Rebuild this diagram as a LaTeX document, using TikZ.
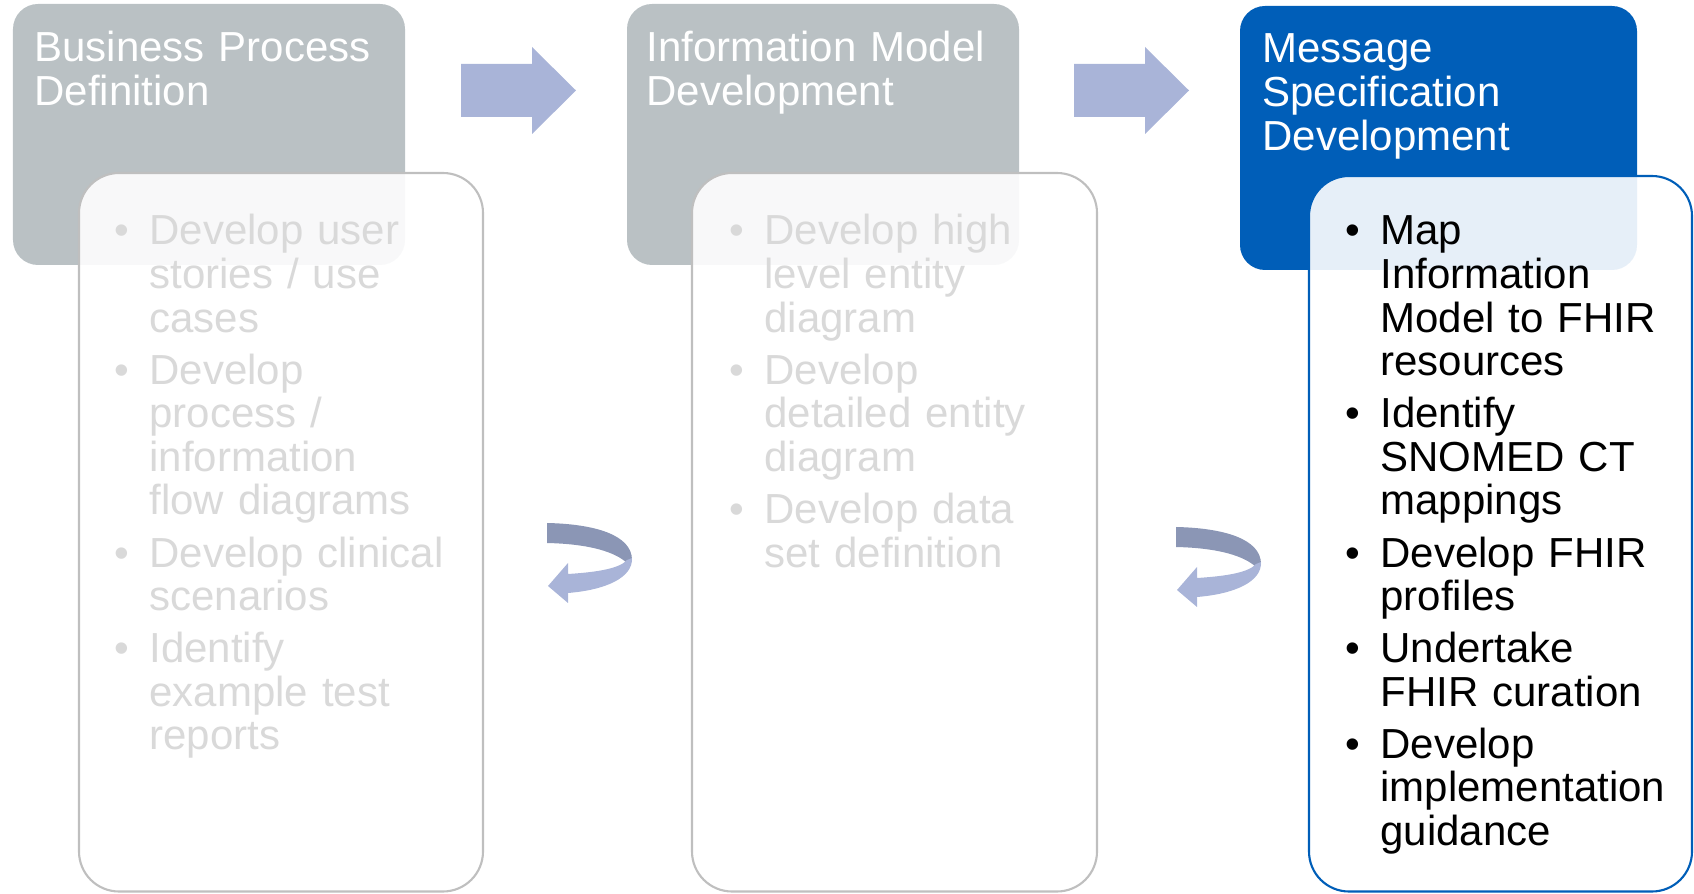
\documentclass[tikz,border=0pt]{standalone}
\usepackage{fontspec}
\setmainfont{Liberation Sans}
\usepackage{tikz}

\definecolor{headgray}{RGB}{186,193,196}
\definecolor{nhsblue}{RGB}{0,94,184}
\definecolor{boxline}{RGB}{191,191,191}
\definecolor{fadetext}{RGB}{217,217,217}
\definecolor{arrowblue}{RGB}{169,180,216}
\definecolor{arrowdark}{RGB}{139,150,181}

\newcommand{\bigfont}{\fontsize{23.9pt}{24.8pt}\selectfont}
\newcommand{\bl}{\llap{\textbullet\hspace{0.4cm}}}
\newcommand{\newbl}{\par\noindent\bl}

\tikzset{
    headbox/.style={fill=headgray, rounded corners=0.5cm},
    listbox/.style={draw=boxline, line width=1.2pt, fill=white, fill opacity=0.9, rounded corners=0.8cm},
    title/.style={anchor=base west, inner sep=0pt, text=white, text width=7.5cm, align=left, font=\bigfont},
    items/.style={anchor=base west, inner sep=0pt, text width=7cm, align=left, font=\bigfont},
    blockarrow/.style={fill=arrowblue},
    backturn/.style={fill=arrowdark},
    frontturn/.style={fill=arrowblue}
}

\begin{document}
\begin{tikzpicture}
    \useasboundingbox (0,0) rectangle (33.88,17.86);
    \fill[headbox] (0.26,12.56) rectangle (8.10,17.78);
    \node[title] (title1) at (0.68,16.62) {Business Process\\Definition};
    \path[listbox] (1.58,0.03) rectangle (9.66,14.40);
    \node[items, text=fadetext] (steps1) at (2.98,12.96) {\setlength{\parskip}{0.17cm}%
        \bl Develop user\\stories / use\\cases
        \newbl Develop\\process /\\information\\flow diagrams
        \newbl Develop clinical\\scenarios
        \newbl Identify\\example test\\reports};

    \fill[headbox] (12.54,12.56) rectangle (20.38,17.78);
    \node[title] (title2) at (12.92,16.62) {Information Model\\Development};
    \path[listbox] (13.84,0.03) rectangle (21.94,14.40);
    \node[items, text=fadetext] (steps2) at (15.28,12.96) {\setlength{\parskip}{0.17cm}%
        \bl Develop high\\level entity\\diagram
        \newbl Develop\\detailed entity\\diagram
        \newbl Develop data\\set definition};

    \fill[headbox, fill=nhsblue] (24.80,12.46) rectangle (32.74,17.74);
    \node[title] (title3) at (25.24,16.60) {Message\\Specification\\Development};
    \path[listbox, draw=nhsblue] (26.18,0.03) rectangle (33.84,14.34);
    \node[items, text=black] (steps3) at (27.60,12.96) {\setlength{\parskip}{0.17cm}%
        \bl Map\\Information\\Model to FHIR\\resources
        \newbl Identify\\SNOMED CT\\mappings
        \newbl Develop FHIR\\profiles
        \newbl Undertake\\FHIR curation
        \newbl Develop\\implementation\\guidance};

    \fill[blockarrow] (9.22,16.58) -- (10.64,16.58) -- (10.64,16.92) -- (11.52,16.05) -- (10.64,15.18) -- (10.64,15.52) -- (9.22,15.52) -- cycle;
    \fill[blockarrow] (21.48,16.58) -- (22.90,16.58) -- (22.90,16.92) -- (23.78,16.05) -- (22.90,15.18) -- (22.90,15.52) -- (21.48,15.52) -- cycle;

    \fill[backturn] (10.94,7.40) .. controls (11.90,7.38) and (12.64,7.16) .. (12.64,6.66) -- (12.54,6.60) .. controls (12.30,6.82) and (11.80,6.98) .. (10.94,7.00) -- cycle;
    \fill[frontturn] (12.64,6.70) .. controls (12.66,6.30) and (12.10,6.06) .. (11.36,6.00) -- (11.36,5.80) -- (10.96,6.14) -- (11.36,6.60) -- (11.36,6.38) .. controls (12.00,6.42) and (12.40,6.50) .. (12.54,6.66) -- cycle;
    \fill[backturn, shift={(12.58,-0.08)}] (10.94,7.40) .. controls (11.90,7.38) and (12.64,7.16) .. (12.64,6.66) -- (12.54,6.60) .. controls (12.30,6.82) and (11.80,6.98) .. (10.94,7.00) -- cycle;
    \fill[frontturn, shift={(12.58,-0.08)}] (12.64,6.70) .. controls (12.66,6.30) and (12.10,6.06) .. (11.36,6.00) -- (11.36,5.80) -- (10.96,6.14) -- (11.36,6.60) -- (11.36,6.38) .. controls (12.00,6.42) and (12.40,6.50) .. (12.54,6.66) -- cycle;
\end{tikzpicture}
\end{document}
